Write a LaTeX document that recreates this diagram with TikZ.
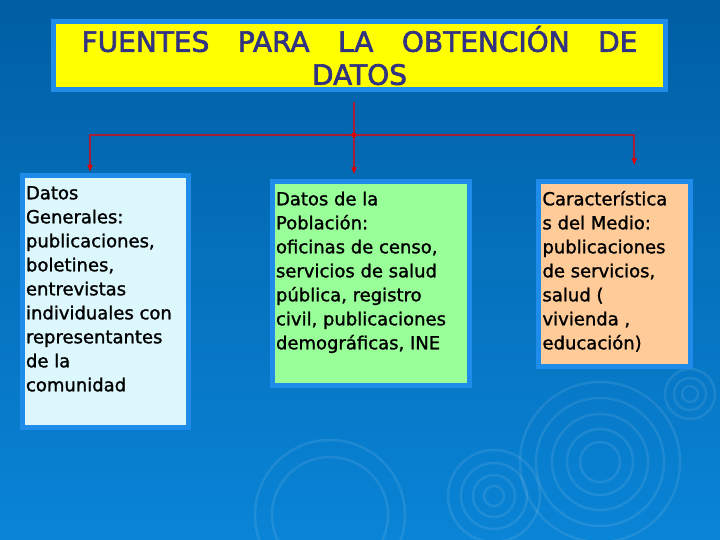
\documentclass[tikz,border=0pt]{standalone}
\usepackage{fontspec}
\setmainfont{DejaVu Sans}[FakeBold=1.4]
\newfontfamily\cardfont[FakeBold=1.4]{DejaVu Sans}
\newfontfamily\titlefont[WordSpace=3.2,FakeBold=2.2]{DejaVu Sans}
\usetikzlibrary{positioning,calc,arrows.meta}
\definecolor{bgtop}{RGB}{0,94,164}
\definecolor{bgbottom}{RGB}{10,132,214}
\definecolor{frameblue}{RGB}{30,140,232}
\definecolor{titleyellow}{RGB}{255,255,0}
\definecolor{titleink}{RGB}{50,50,130}
\definecolor{cardcyan}{RGB}{220,248,252}
\definecolor{cardgreen}{RGB}{153,255,153}
\definecolor{cardpeach}{RGB}{255,204,153}
\definecolor{wirered}{RGB}{165,30,55}
\definecolor{tipred}{RGB}{225,0,0}
\newcommand{\cardbody}[3]{\parbox[c][#2][t]{#1}{\raggedright\strut #3}}

\begin{document}
\begin{tikzpicture}[x=1pt,y=-1pt,
    card/.style={draw=frameblue,line width=5pt,fill=#1,anchor=north west,
                 inner xsep=4pt,inner ysep=6.5pt,font=\cardfont\fontsize{18}{24}\selectfont},
    card/.default=cardcyan,
    headbox/.style={draw=frameblue,line width=5pt,fill=titleyellow,text=titleink,
                 minimum width=612pt,minimum height=68pt,inner sep=0pt,align=center,
                 font=\titlefont\fontsize{28}{33}\selectfont},
    wire/.style={draw=wirered,line width=1.8pt},
    tip/.style={-{Latex[length=7pt,width=6pt,color=tipred]}},
    ripple/.style={draw=white,draw opacity=0.09,line width=2.5pt}
    ]
    %%% fondo
    \useasboundingbox (0,0) rectangle (720,540);
    \shade[top color=bgtop,bottom color=bgbottom] (0,0) rectangle (720,540);
    \foreach \r in {80,64,48,33,20} \draw[ripple] (600,462) circle[radius=\r pt];
    \foreach \r in {46,33,21,10} \draw[ripple] (494,496) circle[radius=\r pt];
    \foreach \r in {75,58} \draw[ripple] (330,515) circle[radius=\r pt];
    \foreach \r in {25,16,8} \draw[ripple] (690,394) circle[radius=\r pt];
    %%% titulo
    \node[headbox] (title) at (359.5,55.5) {FUENTES PARA LA OBTENCIÓN DE\\DATOS};
    %%% fuentes
    \node[card] (general) at (19.5,173.5) {\cardbody{158pt}{238pt}{Datos\\
        Generales:\\ publicaciones,\\ boletines,\\ entrevistas\\
        individuales con\\ representantes\\ de la\\ comunidad}};
    \node[card=cardgreen] (poblacion) at (269.5,179.5) {\cardbody{189pt}{190pt}{Datos de la\\
        Población:\\ oficinas de censo,\\ servicios de salud\\ pública, registro\\
        civil, publicaciones\\ demográficas, INE}};
    \node[card=cardpeach] (medio) at (536,179.5) {\cardbody{143.5pt}{171pt}{Característica\\
        s del Medio:\\ publicaciones\\ de servicios,\\ salud (\\ vivienda ,\\ educación)}};
    %%% conectores
    \coordinate (split) at (354,135);
    \draw[wire] ([yshift=-10pt]title.south -| split) -- (split);
    \draw[wire,tip,shorten >=5pt] (split) -- (split |- poblacion.north);
    \draw[wire,tip,shorten >=1.5pt] (split) -| ([xshift=-15pt]general.north);
    \draw[wire,tip,shorten >=14pt] (split) -| ([xshift=20pt]medio.north);
    \fill[tipred] (split) circle[radius=2.5pt];
\end{tikzpicture}
\end{document}
